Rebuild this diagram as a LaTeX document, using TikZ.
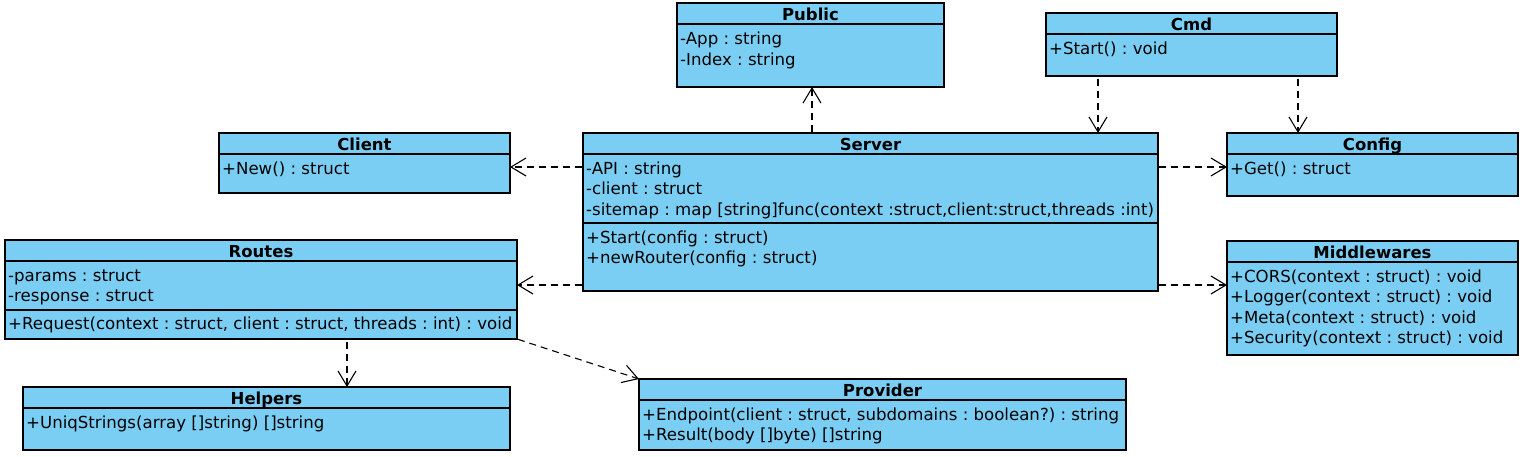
\documentclass[tikz,border=0pt]{standalone}
\usepackage{fontspec}
\setmainfont{DejaVu Sans}
\usetikzlibrary{arrows.meta,calc}
\definecolor{umlblue}{RGB}{122,206,244}
\begin{document}
\frenchspacing
\begin{tikzpicture}[x=1pt,y=-1pt,
  cls/.style={draw=black, fill=umlblue, line width=1.2pt, anchor=north west, inner sep=0pt, outer sep=0pt},
  ttl/.style={font=\fontsize{16.5}{19}\selectfont\bfseries, inner sep=0pt, anchor=base},
  txt/.style={font=\fontsize{16.6}{19}\selectfont, inner sep=0pt, anchor=base west},
  sep/.style={line width=1.2pt},
  dep/.style={draw, line width=1.1pt, dash pattern=on 7pt off 5pt, shorten <=1pt,
    -{Straight Barb[length=15pt,width=18pt,line width=1.1pt]}}]
\useasboundingbox (0,0) rectangle (1522,456);
% Public
\node[cls, minimum width=267pt, minimum height=84pt] (public) at (677,3) {};
\draw[sep] (677,24) -- (944,24);
\node[ttl] (publicT) at (810.5,20) {Public};
\node[txt] (public1) at (680,44.5) {-App : string};
\node[txt] (public2) at (680,65) {-Index : string};
% Cmd
\node[cls, minimum width=291pt, minimum height=63pt] (cmd) at (1046,13) {};
\draw[sep] (1046,34) -- (1337,34);
\node[ttl] (cmdT) at (1191.5,30) {Cmd};
\node[txt] (cmd1) at (1049,54.5) {+Start() : void};
% Client
\node[cls, minimum width=291pt, minimum height=60pt] (client) at (219,133) {};
\draw[sep] (219,154) -- (510,154);
\node[ttl] (clientT) at (364.5,150) {Client};
\node[txt] (client1) at (222,174.5) {+New() : struct};
% Server
\node[cls, minimum width=575pt, minimum height=158pt] (server) at (583,133) {};
\draw[sep] (583,154) -- (1158,154);
\draw[sep] (583,223) -- (1158,223);
\node[ttl] (serverT) at (870.5,150) {Server};
\node[txt] (server1) at (586,174) {-API : string};
\node[txt] (server2) at (586,194.5) {-client : struct};
\node[txt] (server3) at (586,215) {-sitemap : map [string]func(context :struct,client:struct,threads :int)};
\node[txt] (server4) at (586,243) {+Start(config : struct)};
\node[txt] (server5) at (586,263.5) {+newRouter(config : struct)};
% Config
\node[cls, minimum width=291pt, minimum height=63pt] (config) at (1227,133) {};
\draw[sep] (1227,154) -- (1518,154);
\node[ttl] (configT) at (1372.5,150) {Config};
\node[txt] (config1) at (1230,174.5) {+Get() : struct};
% Routes
\node[cls, minimum width=512pt, minimum height=99pt] (routes) at (5,240) {};
\draw[sep] (5,261) -- (517,261);
\draw[sep] (5,310) -- (517,310);
\node[ttl] (routesT) at (261,257) {Routes};
\node[txt] (routes1) at (8,281) {-params : struct};
\node[txt] (routes2) at (8,301.5) {-response : struct};
\node[txt] (routes3) at (8,329) {+Request(context : struct, client : struct, threads : int) : void};
% Middlewares
\node[cls, minimum width=291pt, minimum height=114pt] (mw) at (1227,241) {};
\draw[sep] (1227,262) -- (1518,262);
\node[ttl] (mwT) at (1372.5,258) {Middlewares};
\node[txt] (mw1) at (1230,282) {+CORS(context : struct) : void};
\node[txt] (mw2) at (1230,302.5) {+Logger(context : struct) : void};
\node[txt] (mw3) at (1230,323) {+Meta(context : struct) : void};
\node[txt] (mw4) at (1230,343.5) {+Security(context : struct) : void};
% Helpers
\node[cls, minimum width=487pt, minimum height=63pt] (helpers) at (23,387) {};
\draw[sep] (23,408) -- (510,408);
\node[ttl] (helpersT) at (266.5,404) {Helpers};
\node[txt] (helpers1) at (26,428) {+UniqStrings(array []string) []string};
% Provider
\node[cls, minimum width=487pt, minimum height=71pt] (provider) at (639,379) {};
\draw[sep] (639,400) -- (1126,400);
\node[ttl] (providerT) at (882.5,396) {Provider};
\node[txt] (provider1) at (642,420) {+Endpoint(client : struct, subdomains : boolean?) : string};
\node[txt] (provider2) at (642,440.5) {+Result(body []byte) []string};
% connector guides
\coordinate (xPub) at (812,0);
\coordinate (xCS) at (1098,0);
\coordinate (xCC) at (1298,0);
\coordinate (yTop) at (0,167);
\coordinate (yBot) at (0,285);
\coordinate (xHel) at (347,0);
% connectors
\draw[dep] (server.north -| xPub) -- (public.south -| xPub);
\draw[dep, shorten <=3pt] (cmd.south -| xCS) -- (server.north -| xCS);
\draw[dep, shorten <=3pt] (cmd.south -| xCC) -- (config.north -| xCC);
\draw[dep] (server.west |- yTop) -- (client.east |- yTop);
\draw[dep] (server.east |- yTop) -- (config.west |- yTop);
\draw[dep] (server.west |- yBot) -- (routes.east |- yBot);
\draw[dep] (server.east |- yBot) -- (mw.west |- yBot);
\draw[dep, shorten <=3pt] (routes.south -| xHel) -- (helpers.north -| xHel);
\draw[dep] (routes.south east) -- (provider.north west);
\end{tikzpicture}
\end{document}
